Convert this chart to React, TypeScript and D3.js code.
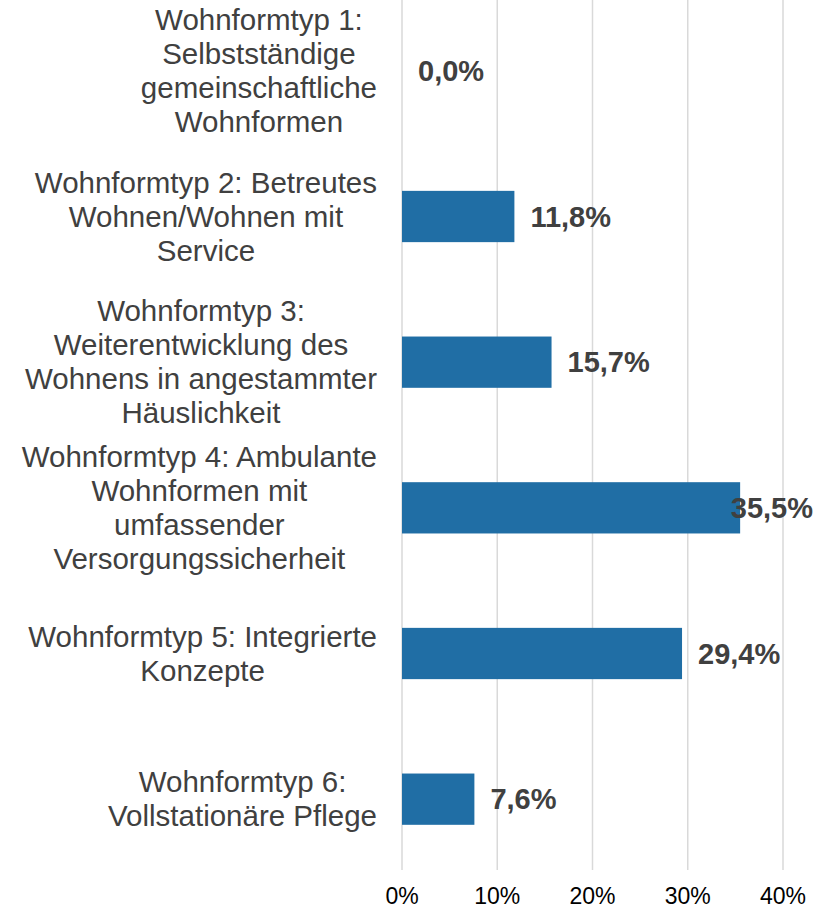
import * as d3 from 'd3';
import React, { useRef, useEffect } from 'react';

// data
const categories = [
    ['Wohnformtyp 1:', 'Selbstständige', 'gemeinschaftliche', 'Wohnformen'],
    ['Wohnformtyp 2: Betreutes', 'Wohnen/Wohnen mit', 'Service'],
    ['Wohnformtyp 3:', 'Weiterentwicklung des', 'Wohnens in angestammter', 'Häuslichkeit'],
    ['Wohnformtyp 4: Ambulante', 'Wohnformen mit', 'umfassender', 'Versorgungssicherheit'],
    ['Wohnformtyp 5: Integrierte', 'Konzepte'],
    ['Wohnformtyp 6:', 'Vollstationäre Pflege'],
];
const values = [0.0, 11.8, 15.7, 35.5, 29.4, 7.6];
const ticks = [0, 10, 20, 30, 40];

const W = 826, H = 909;

function App() {
    const ref = useRef<SVGSVGElement>(null);

    useEffect(() => {
        const svg = d3.select(ref.current);
        svg.selectAll('*').remove();

        const plotLeft = 402, plotRight = 813, gridTop = 0, gridBottom = 870;
        const x = d3.scaleLinear().domain([0, 40]).range([plotLeft, 783]);
        const y = d3.scaleBand<number>()
            .domain(d3.range(values.length))
            .range([-2, 872])
            .paddingInner(0.648)
            .paddingOuter(0.324);

        // gridlines
        svg.append('g')
            .selectAll('line')
            .data(ticks)
            .enter()
            .append('line')
            .attr('x1', d => x(d))
            .attr('x2', d => x(d))
            .attr('y1', gridTop)
            .attr('y2', gridBottom)
            .attr('stroke', '#d9d9d9')
            .attr('stroke-width', 1.5);

        // tick labels
        svg.append('g')
            .selectAll('text')
            .data(ticks)
            .enter()
            .append('text')
            .attr('x', d => x(d))
            .attr('y', 904)
            .attr('text-anchor', 'middle')
            .attr('font-family', '"Liberation Sans", Arial, sans-serif')
            .attr('font-size', 23)
            .attr('fill', '#000')
            .text(d => d + '%');

        // bars
        svg.append('g')
            .selectAll('rect')
            .data(values)
            .enter()
            .append('rect')
            .attr('x', x(0))
            .attr('y', (d, i) => y(i)!)
            .attr('width', d => x(d) - x(0))
            .attr('height', y.bandwidth())
            .attr('fill', '#206ea5');

        // value labels (pushed back inside the plot when they would overflow)
        const vals = svg.append('g')
            .selectAll('text')
            .data(values)
            .enter()
            .append('text')
            .attr('y', (d, i) => y(i)! + y.bandwidth() / 2)
            .attr('dy', '0.35em')
            .attr('font-family', '"Liberation Sans", Arial, sans-serif')
            .attr('font-size', 29)
            .attr('font-weight', 'bold')
            .attr('fill', '#404040')
            .text(d => d.toFixed(1).replace('.', ',') + '%');
        vals.each(function (d) {
            const w = (this as SVGTextElement).getComputedTextLength();
            d3.select(this).attr('x', Math.min(x(d) + 16, plotRight - w));
        });

        // category labels: centred lines, block right-aligned to the axis
        const lineH = 34;
        categories.forEach((lines, i) => {
            const cy = y(i)! + y.bandwidth() / 2;
            const t = svg.append('text')
                .attr('font-family', '"Liberation Sans", Arial, sans-serif')
                .attr('font-size', 29.5)
                .attr('fill', '#404040')
                .attr('text-anchor', 'middle');
            const spans = lines.map((ln, k) =>
                t.append('tspan')
                    .attr('y', cy + (k - (lines.length - 1) / 2) * lineH)
                    .attr('dy', '0.35em')
                    .text(ln)
            );
            const maxW = d3.max(spans, s => (s.node() as SVGTextContentElement).getComputedTextLength()) || 0;
            spans.forEach(s => s.attr('x', 377 - maxW / 2));
        });
    }, []);

    return (
        <svg ref={ref} width={W} height={H} style={{ position: 'absolute', left: 0, top: 0, background: '#fff' }} />
    );
}

export default App;
